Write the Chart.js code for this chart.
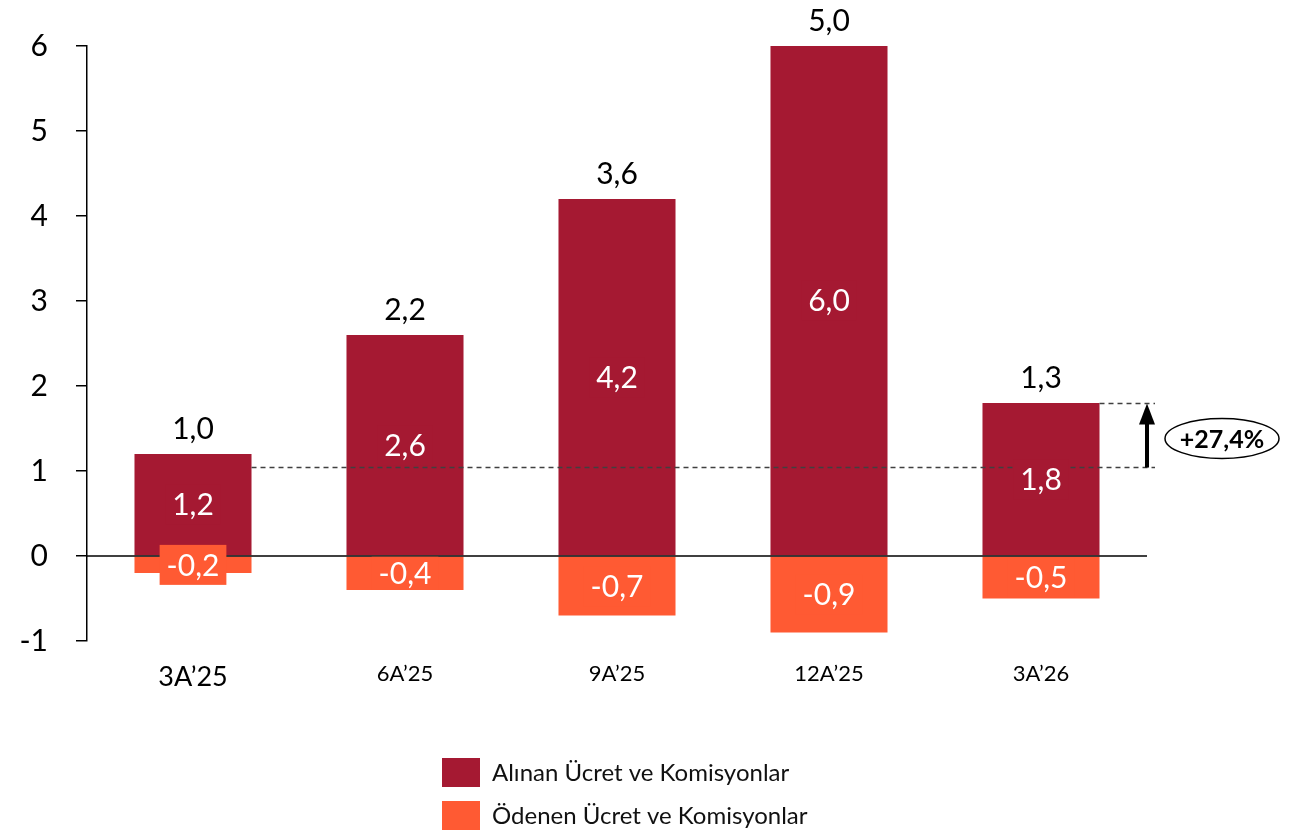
<!DOCTYPE html>
<html lang="tr">
<head>
<meta charset="utf-8">
<title>Ücret ve Komisyonlar</title>
<script src="https://cdn.jsdelivr.net/npm/chart.js@4.4.1/dist/chart.umd.min.js"></script>
<style>
  html, body { margin: 0; padding: 0; background: #ffffff; }
  #wrap { width: 1296px; height: 835px; position: relative; }
</style>
</head>
<body>
<div id="wrap"><canvas id="feesChart" width="1296" height="835"></canvas></div>
<script>
// Quarterly fee data (billion TL)
const categories = ["3A’25", "6A’25", "9A’25", "12A’25", "3A’26"];
const receivedFees = [1.2, 2.6, 4.2, 6.0, 1.8];
const paidFees = [-0.2, -0.4, -0.7, -0.9, -0.5];
const netFees = [1.0, 2.2, 3.6, 5.0, 1.3];
const yTickValues = [-1, 0, 1, 2, 3, 4, 5, 6];
const seriesNames = ["Alınan Ücret ve Komisyonlar", "Ödenen Ücret ve Komisyonlar"];

// Growth marker: from the first net level up to the latest received level
const growthFrom = 1.05;
const growthTo = 1.8;
const growthText = "+27,4%";

const RED = "#A51932";
const ORANGE = "#FF5A33";
const FONT = "Lato, 'Open Sans', sans-serif";

const fmt = v => v.toFixed(1).replace(".", ",");

const overlayPlugin = {
  id: "overlay",
  afterDatasetsDraw(chart) {
    const ctx = chart.ctx;
    const area = chart.chartArea;
    const y = chart.scales.y;
    const redMeta = chart.getDatasetMeta(0);
    const orMeta = chart.getDatasetMeta(1);

    ctx.save();
    // zero baseline
    ctx.strokeStyle = "#000";
    ctx.lineWidth = 1.5;
    ctx.beginPath();
    ctx.moveTo(area.left, y.getPixelForValue(0));
    ctx.lineTo(area.right, y.getPixelForValue(0));
    ctx.stroke();

    // dashed reference lines
    const first = redMeta.data[0];
    const last = redMeta.data[redMeta.data.length - 1];
    const yFrom = Math.round(y.getPixelForValue(growthFrom)) + 0.5;
    const yTo = Math.round(y.getPixelForValue(growthTo)) + 0.5;
    ctx.strokeStyle = "#404040";
    ctx.lineWidth = 1.3;
    ctx.setLineDash([5, 4]);
    ctx.beginPath();
    ctx.moveTo(first.x + first.width / 2, yFrom);
    ctx.lineTo(area.right + 8, yFrom);
    ctx.moveTo(last.x + last.width / 2, yTo);
    ctx.lineTo(area.right + 8, yTo);
    ctx.stroke();
    ctx.setLineDash([]);

    // in-bar value labels; short bars get a label box in the bar colour
    ctx.font = "30px " + FONT;
    ctx.textAlign = "center";
    ctx.textBaseline = "middle";
    [[redMeta, receivedFees, RED], [orMeta, paidFees, ORANGE]].forEach(([meta, vals, col]) => {
      meta.data.forEach((bar, i) => {
        const cy = (bar.y + bar.base) / 2;
        const barH = Math.abs(bar.base - bar.y);
        const txt = fmt(vals[i]);
        const w = ctx.measureText(txt).width + 14;
        const h = barH < 30 ? 40 : Math.min(40, barH);
        ctx.fillStyle = col;
        ctx.fillRect(bar.x - w / 2, cy - h / 2, w, h);
        ctx.fillStyle = "#ffffff";
        ctx.fillText(txt, bar.x, cy + 1);
      });
    });

    // net labels above bars
    ctx.fillStyle = "#000";
    ctx.textBaseline = "alphabetic";
    redMeta.data.forEach((bar, i) => {
      ctx.fillText(fmt(netFees[i]), bar.x, bar.y - 15);
    });

    // growth arrow
    const ax = area.right;
    ctx.fillStyle = "#000";
    ctx.strokeStyle = "#000";
    ctx.lineWidth = 4;
    ctx.beginPath();
    ctx.moveTo(ax, yFrom);
    ctx.lineTo(ax, yTo + 16);
    ctx.stroke();
    ctx.beginPath();
    ctx.moveTo(ax, yTo);
    ctx.lineTo(ax - 8, yTo + 21);
    ctx.lineTo(ax + 8, yTo + 21);
    ctx.closePath();
    ctx.fill();

    // growth badge
    const ex = area.right + 75;
    const ey = (yFrom + yTo) / 2 + 3;
    ctx.lineWidth = 1.5;
    ctx.beginPath();
    ctx.ellipse(ex, ey, 57, 20, 0, 0, Math.PI * 2);
    ctx.fillStyle = "#fff";
    ctx.fill();
    ctx.stroke();
    ctx.fillStyle = "#000";
    ctx.font = "bold 25px " + FONT;
    ctx.textBaseline = "middle";
    ctx.fillText(growthText, ex, ey + 1);

    ctx.restore();
  },
  afterDraw(chart) {
    // vertical legend below the plot
    const ctx = chart.ctx;
    ctx.save();
    ctx.font = "24px " + FONT;
    ctx.textAlign = "left";
    ctx.textBaseline = "middle";
    chart.data.datasets.forEach((ds, i) => {
      const top = 758 + i * 43;
      ctx.fillStyle = ds.backgroundColor;
      ctx.fillRect(442, top, 38, 29);
      ctx.fillStyle = "#111";
      ctx.fillText(ds.label, 492, top + 15);
    });
    ctx.restore();
  }
};

new Chart(document.getElementById("feesChart"), {
  type: "bar",
  data: {
    labels: categories,
    datasets: [
      { label: seriesNames[0], data: receivedFees, backgroundColor: RED },
      { label: seriesNames[1], data: paidFees, backgroundColor: ORANGE }
    ]
  },
  options: {
    responsive: false,
    animation: false,
    devicePixelRatio: 1,
    layout: { padding: { left: 0, right: 149, top: 43, bottom: 0 } },
    datasets: { bar: { categoryPercentage: 1, barPercentage: 0.552, borderWidth: 0 } },
    plugins: { legend: { display: false }, tooltip: { enabled: false } },
    scales: {
      x: {
        stacked: true,
        grid: { display: false },
        border: { display: false },
        afterFit: s => { s.height = 194; },
        ticks: {
          color: "#000",
          padding: 12,
          font: c => ({ family: FONT, size: c.index === 0 ? 27 : 22 })
        }
      },
      y: {
        stacked: true,
        min: -1,
        max: 6,
        afterFit: s => { s.width = 87; },
        afterBuildTicks: s => { s.ticks = yTickValues.map(v => ({ value: v })); },
        grid: { drawOnChartArea: false, drawTicks: true, tickLength: 11, color: "#000", lineWidth: 1.5 },
        border: { display: true, color: "#000", width: 1.5 },
        ticks: {
          color: "#000",
          padding: 28,
          font: { family: FONT, size: 30 },
          callback: v => String(v)
        }
      }
    }
  },
  plugins: [overlayPlugin]
});
</script>
</body>
</html>
